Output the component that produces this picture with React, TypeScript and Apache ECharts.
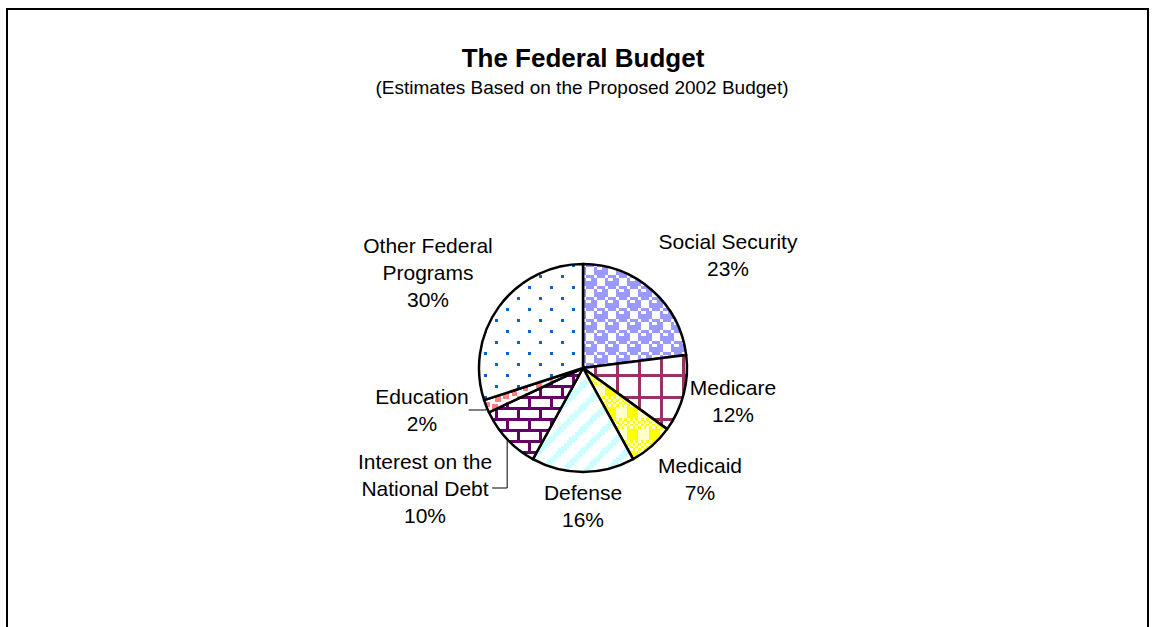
import React, { useEffect, useRef } from 'react';
import * as echarts from 'echarts';

// ---- data ----
const categories = [
  'Social Security',
  'Medicare',
  'Medicaid',
  'Defense',
  'Interest on the National Debt',
  'Education',
  'Other Federal Programs',
];
const labelTexts = [
  'Social Security',
  'Medicare',
  'Medicaid',
  'Defense',
  'Interest on the\nNational Debt',
  'Education',
  'Other Federal\nPrograms',
];
const shares = [23, 12, 7, 16, 10, 2, 30];
const titleText = 'The Federal Budget';
const subtitleText = '(Estimates Based on the Proposed 2002 Budget)';

// ---- styles ----
const FONT = 'Arial, "Liberation Sans", Helvetica, sans-serif';
const labelCenters: [number, number][] = [
  [728, 255],
  [733, 401],
  [700, 479],
  [583, 506],
  [425, 488],
  [422, 410],
  [428, 272],
];

type Bitmap = { rows: string[]; colors: Record<string, string> };
const patterns: Bitmap[] = [
  {
    // sphere
    rows: ['01110111', '10011000', '11111000', '11111000', '01110111', '10001001', '10001111', '10001111'],
    colors: { '1': '#9999FF', '0': '#FFFFFF' },
  },
  {
    // large grid
    rows: ['11111111', '10000000', '10000000', '10000000', '10000000', '10000000', '10000000', '10000000'],
    colors: { '1': '#993366', '0': '#FFFFFF' },
  },
  {
    // plaid
    rows: ['01010101', '10101010', '01010101', '10101010', '00001111', '00001111', '00001111', '00001111'],
    colors: { '1': '#FFFF00', '0': '#FFFFCC' },
  },
  {
    // wide upward diagonal
    rows: ['10000011', '00000111', '00001110', '00011100', '00111000', '01110000', '11100000', '11000001'],
    colors: { '1': '#CCFFFF', '0': '#FFFFFF' },
  },
  {
    // horizontal brick
    rows: ['11111111', '10000000', '10000000', '10000000', '11111111', '00001000', '00001000', '00001000'],
    colors: { '1': '#660066', '0': '#FFFFFF' },
  },
  {
    // large confetti
    rows: ['10001101', '00001100', '11000000', '11011000', '00011011', '00000011', '00110000', '10110001'],
    colors: { '1': '#FF8080', '0': '#FFFFFF' },
  },
  {
    // dots
    rows: ['10000000', '00000000', '00000000', '00000000', '00001000', '00000000', '00000000', '00000000'],
    colors: { '1': '#0066CC', '0': '#FFFFFF' },
  },
];

function makeTile(bm: Bitmap, scale = 2.75) {
  const n = bm.rows.length;
  const size = Math.round(n * scale);
  const c = document.createElement('canvas');
  c.width = size;
  c.height = size;
  const ctx = c.getContext('2d')!;
  const e = (i: number) => Math.round(i * scale);
  for (let y = 0; y < n; y++) {
    for (let x = 0; x < n; x++) {
      ctx.fillStyle = bm.colors[bm.rows[y][x]];
      ctx.fillRect(e(x), e(y), e(x + 1) - e(x), e(y + 1) - e(y));
    }
  }
  return { image: c.toDataURL(), repeat: 'repeat', imageWidth: size, imageHeight: size };
}

export default function App() {
  const ref = useRef<HTMLDivElement>(null);
  useEffect(() => {
    document.body.style.margin = '0';
    if (!ref.current) return;
    const chart = echarts.init(ref.current, null, { renderer: 'svg' });
    const fills = patterns.map((p) => makeTile(p));
    const data = categories.map((name, i) => ({
      name,
      value: shares[i],
      itemStyle: { color: fills[i] as any },
      labelLine: { show: i === 4 || i === 5 },
    }));
    chart.setOption({
      animation: false,
      backgroundColor: '#FFFFFF',
      graphic: [
        {
          type: 'rect',
          shape: { x: 7, y: 9, width: 1141, height: 700 },
          style: { fill: 'none', stroke: '#000', lineWidth: 2 },
          silent: true,
        },
        {
          type: 'text',
          x: 583,
          y: 58,
          style: {
            text: titleText,
            font: `bold 26px ${FONT}`,
            fill: '#000',
            align: 'center',
            verticalAlign: 'middle',
          },
        },
        {
          type: 'text',
          x: 582,
          y: 87,
          style: {
            text: subtitleText,
            font: `19px ${FONT}`,
            fill: '#000',
            align: 'center',
            verticalAlign: 'middle',
          },
        },
      ],
      series: [
        {
          type: 'pie',
          center: [583, 368],
          radius: 104,
          startAngle: 90,
          clockwise: true,
          avoidLabelOverlap: false,
          emphasis: { disabled: true },
          itemStyle: { borderColor: '#000', borderWidth: 2.5 },
          label: {
            show: true,
            position: 'outside',
            color: '#000',
            fontFamily: FONT,
            fontSize: 21,
            lineHeight: 27,
            align: 'center',
            formatter: (p: any) => `${labelTexts[p.dataIndex]}\n${p.value}%`,
          },
          labelLine: {
            show: false,
            lineStyle: { color: '#000', width: 1 },
          },
          labelLayout: (p: any) => ({
            x: labelCenters[p.dataIndex][0],
            y: labelCenters[p.dataIndex][1],
            align: 'center',
            verticalAlign: 'middle',
          }),
          data,
        },
      ],
    });
    return () => chart.dispose();
  }, []);
  return <div ref={ref} style={{ width: 1153, height: 627 }} />;
}
